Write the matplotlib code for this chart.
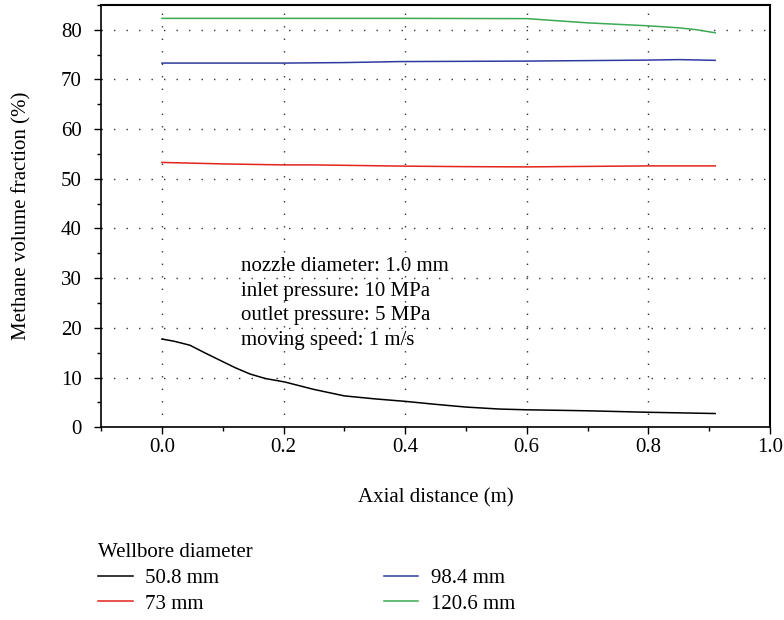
import numpy as np
import matplotlib.pyplot as plt
from matplotlib.ticker import MultipleLocator

plt.rcParams['font.family'] = ['Liberation Serif', 'DejaVu Serif']

# axial distance (m) and methane volume fraction (%) per wellbore diameter
x_508 = [0.0, 0.02, 0.046, 0.07, 0.095, 0.12, 0.145, 0.17, 0.202, 0.25, 0.30, 0.35, 0.40, 0.45, 0.50, 0.555, 0.60, 0.70, 0.80, 0.91]
y_508 = [17.75, 17.3, 16.5, 15.0, 13.5, 12.0, 10.7, 9.8, 9.1, 7.6, 6.3, 5.7, 5.2, 4.6, 4.05, 3.65, 3.5, 3.3, 3.0, 2.75]

x_73 = [0.0, 0.1, 0.2, 0.25, 0.4, 0.5, 0.6, 0.8, 0.91]
y_73 = [53.3, 53.0, 52.8, 52.8, 52.55, 52.45, 52.4, 52.6, 52.6]

x_984 = [0.0, 0.2, 0.3, 0.39, 0.6, 0.8, 0.85, 0.91]
y_984 = [73.3, 73.3, 73.4, 73.6, 73.7, 73.9, 74.0, 73.85]

x_1206 = [0.0, 0.2, 0.4, 0.6, 0.7, 0.8, 0.85, 0.88, 0.91]
y_1206 = [82.3, 82.3, 82.3, 82.25, 81.4, 80.8, 80.4, 80.0, 79.4]

labels = ['50.8 mm', '73 mm', '98.4 mm', '120.6 mm']
colors = ['black', '#e3231c', '#2e3b9e', '#3aaa55']
xtick_labels = ['0.0', '0.2', '0.4', '0.6', '0.8', '1.0']

notes = ['nozzle diameter: 1.0 mm', 'inlet pressure: 10 MPa',
         'outlet pressure: 5 MPa', 'moving speed: 1 m/s']

FS = 15

fig = plt.figure(figsize=(7.84, 6.20), dpi=100)
ax = fig.add_axes([0.129, 0.311, 0.853, 0.681])

series = [(x_508, y_508), (x_73, y_73), (x_984, y_984), (x_1206, y_1206)]
lines = []
for (xs, ys), lab, c in zip(series, labels, colors):
    ln, = ax.plot(xs, ys, color=c, lw=1.1, label=lab)
    lines.append(ln)

ax.set_xlim(-0.1, 1.0)
ax.set_ylim(0, 85)
ax.xaxis.set_minor_locator(MultipleLocator(0.1))
ax.yaxis.set_major_locator(MultipleLocator(10))
ax.yaxis.set_minor_locator(MultipleLocator(5))
ax.set_xticks(np.arange(0, 1.01, 0.2))
ax.set_xticklabels(xtick_labels)
ax.tick_params(which='major', direction='out', length=5, width=1, labelsize=FS)
ax.tick_params(which='minor', direction='out', length=3, width=1)
ax.tick_params(axis='x', pad=3)
ax.tick_params(axis='y', pad=9)

ax.grid(True, which='major', color='#333333', linestyle=(0, (1, 8)), linewidth=1)

for s in ax.spines.values():
    s.set_linewidth(1.2)
ax.spines['top'].set_linewidth(1.5)
ax.spines['right'].set_linewidth(1.5)

ax.set_ylabel('Methane volume fraction (%)', fontsize=FS, labelpad=21)
ax.set_xlabel('Axial distance (m)', fontsize=FS, labelpad=22)

for i, t in enumerate(notes):
    ax.text(0.13, 32.4 - i * 5.0, t, fontsize=FS, va='center')

leg = fig.legend(handles=lines, labels=labels, title='Wellbore diameter',
                 ncol=2, loc='upper left', bbox_to_anchor=(0.112, 0.141),
                 frameon=False, fontsize=FS, title_fontsize=FS,
                 handlelength=1.65, handletextpad=0.6, columnspacing=7.9,
                 labelspacing=0.3, borderpad=0, alignment='left')

fig.savefig('out.png', dpi=100)
